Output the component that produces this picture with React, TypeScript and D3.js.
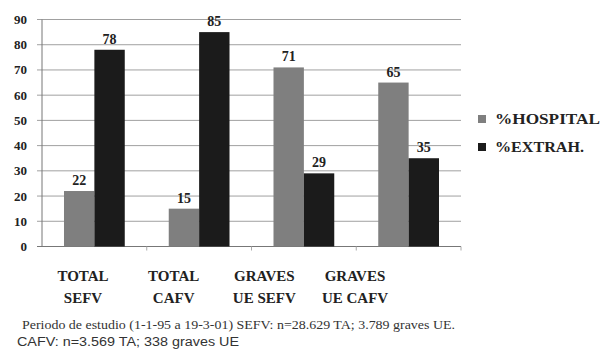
import React from "react";
import * as d3 from "d3";

const categories = ["TOTAL SEFV", "TOTAL CAFV", "GRAVES UE SEFV", "GRAVES UE CAFV"];
const categoryLines = [
  ["TOTAL", "SEFV"],
  ["TOTAL", "CAFV"],
  ["GRAVES", "UE SEFV"],
  ["GRAVES", "UE CAFV"],
];
const seriesNames = ["%HOSPITAL", "%EXTRAH."];
const hospital = [22, 15, 71, 65];
const extrah = [78, 85, 29, 35];
const yTicks = [0, 10, 20, 30, 40, 50, 60, 70, 80, 90];
const footnote1 = "Periodo de estudio (1-1-95 a 19-3-01) SEFV: n=28.629 TA; 3.789 graves UE.";
const footnote2 = "CAFV: n=3.569 TA; 338 graves UE";

const colors = ["#7f7f7f", "#1b1b1b"];
const serif = "'Liberation Serif', 'Times New Roman', serif";
const sans = "'Liberation Sans', Arial, sans-serif";

export default function App() {
  const W = 606;
  const H = 353;
  const left = 42;
  const right = 461;

  const y = d3.scaleLinear().domain([0, 90]).range([246.5, 19.5]);
  const x = d3.scaleBand().domain(categories).range([left, right]).paddingInner(0.42).paddingOuter(0.21);
  const xs = d3.scaleBand().domain(seriesNames).range([0, x.bandwidth()]);
  const labelX = d3.scalePoint().domain(categories).range([83, 355]);

  const series = [hospital, extrah];

  return (
    <svg width={W} height={H} style={{ position: "absolute", left: 0, top: 0, background: "#fff" }}>
      <rect width={W} height={H} fill="#fff" />
      {/* gridlines and y ticks */}
      {yTicks.map((t) => (
        <g key={t}>
          <line x1={left - 5} x2={right} y1={y(t)} y2={y(t)} stroke={t === 0 ? "#777" : "#a0a0a0"} strokeWidth={1} />
          <text
            x={27}
            y={y(t)}
            dy="0.35em"
            textAnchor="end"
            fontFamily={serif}
            fontWeight="bold"
            fontSize={13}
            fill="#222"
          >
            {t}
          </text>
        </g>
      ))}
      <line x1={left} x2={left} y1={y(90)} y2={y(0)} stroke="#777" strokeWidth={1} />
      {categories.map((c) => {
        const sx = (x(c) ?? 0) + x.bandwidth() + (x.step() - x.bandwidth()) / 2;
        return <line key={c} x1={sx} x2={sx} y1={y(0)} y2={y(0) + 4} stroke="#aaa" />;
      })}
      {/* bars with value labels */}
      {categories.map((c, i) => (
        <g key={c} transform={`translate(${x(c)},0)`}>
          {series.map((vals, s) => {
            const v = vals[i];
            const bx = xs(seriesNames[s]) ?? 0;
            return (
              <g key={s}>
                <rect x={bx} y={y(v)} width={xs.bandwidth()} height={y(0) - y(v)} fill={colors[s]} />
                <text
                  x={bx + xs.bandwidth() / 2}
                  y={y(v) - 6}
                  textAnchor="middle"
                  fontFamily={serif}
                  fontWeight="bold"
                  fontSize={14}
                  fill="#222"
                >
                  {v}
                </text>
              </g>
            );
          })}
        </g>
      ))}
      {/* category labels */}
      {categories.map((c, i) => (
        <text key={c} textAnchor="middle" fontFamily={serif} fontWeight="bold" fontSize={15} fill="#222">
          <tspan x={labelX(c)} y={281}>{categoryLines[i][0]}</tspan>
          <tspan x={labelX(c)} y={303}>{categoryLines[i][1]}</tspan>
        </text>
      ))}
      {/* legend */}
      {seriesNames.map((n, s) => (
        <g key={n} transform={`translate(478,${115 + s * 28})`}>
          <rect x={0} y={0} width={8} height={8} fill={colors[s]} />
          <text
            x={17}
            y={4}
            dy="0.35em"
            fontFamily={serif}
            fontWeight="bold"
            fontSize={15}
            fill="#222"
            textLength={s === 0 ? 105 : 89}
            lengthAdjust="spacingAndGlyphs"
          >
            {n}
          </text>
        </g>
      ))}
      {/* footnote */}
      <text x={22} y={329} fontFamily={serif} fontSize={12} fill="#333" textLength={433} lengthAdjust="spacingAndGlyphs">
        {footnote1}
      </text>
      <text x={17} y={346} fontFamily={sans} fontSize={12} fill="#333" textLength={222} lengthAdjust="spacingAndGlyphs">
        {footnote2}
      </text>
    </svg>
  );
}
